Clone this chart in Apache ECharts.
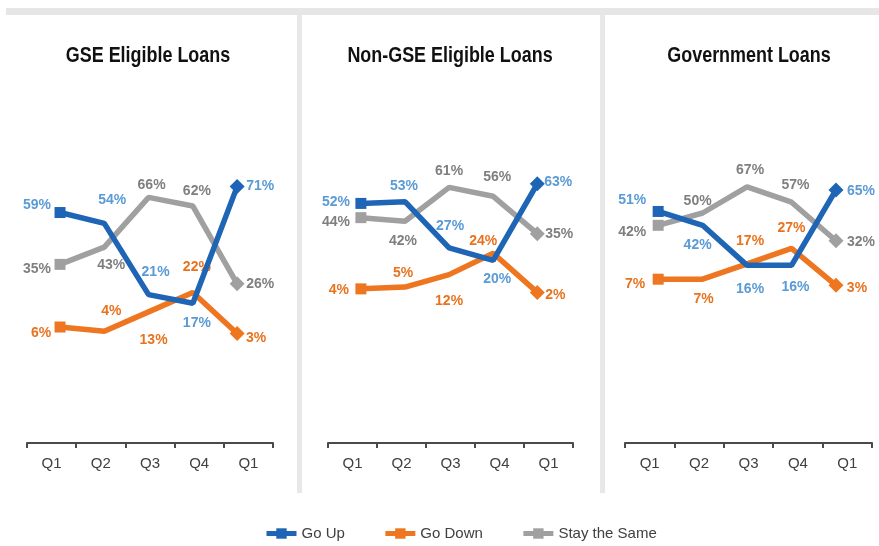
<!DOCTYPE html>
<html><head><meta charset="utf-8">
<script src="https://cdn.jsdelivr.net/npm/echarts@6/dist/echarts.min.js"></script>
<style>html,body{margin:0;padding:0;background:#fff}#c{width:879px;height:546px}</style>
</head><body><div id="c"></div>
<script>
const categories = ['Q1', 'Q2', 'Q3', 'Q4', 'Q1'];
const seriesNames = ['Go Up', 'Go Down', 'Stay the Same'];
const panelTitles = ['GSE Eligible Loans', 'Non-GSE Eligible Loans', 'Government Loans'];

const gseUp = [59, 54, 21, 17, 71];
const gseDown = [6, 4, 13, 22, 3];
const gseSame = [35, 43, 66, 62, 26];

const nonGseUp = [52, 53, 27, 20, 63];
const nonGseDown = [4, 5, 12, 24, 2];
const nonGseSame = [44, 42, 61, 56, 35];

const govUp = [51, 42, 16, 16, 65];
const govDown = [7, 7, 17, 27, 3];
const govSame = [42, 50, 67, 57, 32];

const panelData = [
  [gseUp, gseDown, gseSame],
  [nonGseUp, nonGseDown, nonGseSame],
  [govUp, govDown, govSame]
];

// ---- layout / styling (not data) ----
const FONT = "'Liberation Sans',Arial,sans-serif";
const lineColors = ['#1F65B5', '#EE7620', '#A0A0A0'];
const labelColors = ['#5B9BD5', '#E8731E', '#7F7F7F'];
const panels = [
  { left: 27, width: 246, ymin: -47.7, ymax: 111.1, titleX: 148 },
  { left: 328, width: 245, ymin: -82.6, ymax: 110.1, titleX: 450 },
  { left: 625, width: 247, ymin: -99.4, ymax: 123.4, titleX: 749 }
];
// label centre offsets (dx, dy) from each point, per panel -> series (up, down, same) -> point
const labelOffset = [
  [
    [[-23, -7], [8, -23], [7, -22], [4, 20], [23, 0]],
    [[-19, 6], [7, -20], [5, 28], [4, -25], [19, 5]],
    [[-23, 5], [7, 18], [3, -12], [4, -15], [23, 0]]
  ],
  [
    [[-25, -1], [-1, -15], [1, -22], [4, 19], [21, -2]],
    [[-22, 1], [-2, -14], [0, 27], [-10, -12], [18, 3]],
    [[-25, 4], [-2, 20], [0, -16], [4, -19], [22, 0]]
  ],
  [
    [[-26, -11], [-5, 20], [3, 24], [4, 22], [25, 1]],
    [[-23, 5], [1, 20], [3, -23], [0, -20], [21, 3]],
    [[-26, 7], [-5, -12], [3, -17], [4, -17], [25, 1]]
  ]
];

const GRID_TOP = 100, AXIS_Y = 443, H = 546;
const grids = [], xAxes = [], yAxes = [], series = [], graphics = [];

graphics.push(
  { type: 'rect', shape: { x: 6, y: 8, width: 873, height: 7 }, style: { fill: '#E6E6E6' }, silent: true, z: -1 },
  { type: 'rect', shape: { x: 297, y: 15, width: 5, height: 478 }, style: { fill: '#E8E8E8' }, silent: true, z: -1 },
  { type: 'rect', shape: { x: 600, y: 15, width: 5, height: 478 }, style: { fill: '#E8E8E8' }, silent: true, z: -1 }
);

panels.forEach((p, pi) => {
  grids.push({ left: p.left, width: p.width, top: GRID_TOP, bottom: H - AXIS_Y, containLabel: false });
  xAxes.push({
    type: 'category', gridIndex: pi, data: categories, boundaryGap: true,
    axisLine: { onZero: false, lineStyle: { color: '#4a4a4a', width: 2 } },
    axisTick: { show: true, length: 5, lineStyle: { color: '#4a4a4a', width: 2 } },
    axisLabel: { color: '#404040', fontSize: 15, fontFamily: FONT, margin: 13 },
    splitLine: { show: false }
  });
  xAxes.push({
    type: 'value', gridIndex: pi, show: false, min: -0.746, max: 4.81,
    splitLine: { show: false }
  });
  yAxes.push({ type: 'value', gridIndex: pi, show: false, min: p.ymin, max: p.ymax, splitLine: { show: false } });
  graphics.push({
    type: 'text', x: p.titleX, y: 56, scaleX: 0.815, z: 10,
    style: {
      text: panelTitles[pi], font: "bold 22px 'Liberation Sans', Arial, sans-serif",
      fill: '#111111', textAlign: 'center', textVerticalAlign: 'middle'
    }
  });
  // draw order: Stay (back), Go Down, Go Up
  [2, 1, 0].forEach(si => {
    const vals = panelData[pi][si];
    series.push({
      name: seriesNames[si], type: 'line', xAxisIndex: pi * 2 + 1, yAxisIndex: pi,
      symbol: 'rect', symbolSize: 11, showAllSymbol: true,
      lineStyle: { color: lineColors[si], width: 5.5 },
      itemStyle: { color: lineColors[si] },
      z: 3 - si,
      label: {
        show: true, fontFamily: FONT, fontSize: 14, fontWeight: 'bold', color: labelColors[si],
        align: 'center', verticalAlign: 'middle',
        formatter: (d) => d.value[1] + '%'
      },
      emphasis: { disabled: true },
      data: vals.map((v, i) => {
        const last = i === vals.length - 1;
        const s = i === 0 ? 11 : (last ? 15 : 1);
        const off = labelOffset[pi][si][i];
        return {
          value: [i, v],
          symbol: i === 0 ? 'rect' : (last ? 'diamond' : 'circle'),
          symbolSize: s,
          label: { position: [off[0] + s / 2, off[1] + s / 2] }
        };
      })
    });
  });
});

const chart = echarts.init(document.getElementById('c'), null, { renderer: 'canvas' });
chart.setOption({
  animation: false,
  backgroundColor: '#ffffff',
  grid: grids,
  xAxis: xAxes,
  yAxis: yAxes,
  series: series,
  legend: {
    data: seriesNames, top: 521, left: 259, itemGap: 38, itemWidth: 30, itemHeight: 13,
    lineStyle: { width: 5 },
    textStyle: { fontFamily: FONT, fontSize: 15, color: '#404040' }
  },
  graphic: graphics
});
</script></body></html>
